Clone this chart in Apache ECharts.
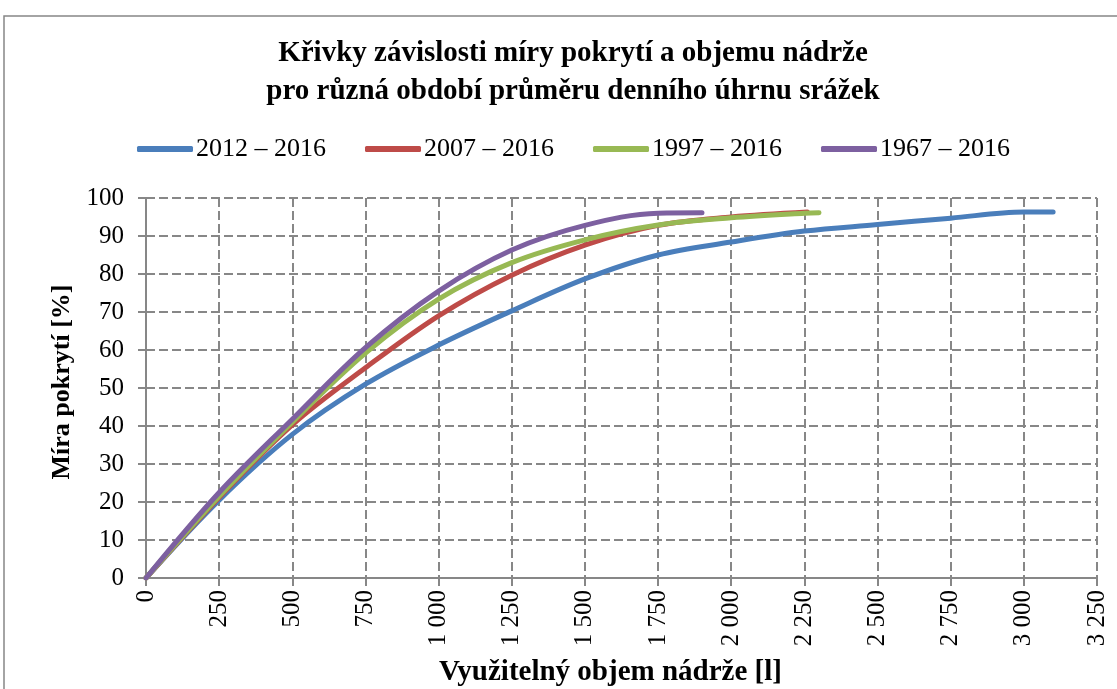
<!DOCTYPE html>
<html>
<head>
<meta charset="utf-8">
<script src="https://cdn.jsdelivr.net/npm/echarts@6/dist/echarts.min.js"></script>
<style>
  html, body { margin: 0; padding: 0; background: #fff; }
  #main { width: 1117px; height: 689px; }
</style>
</head>
<body>
<div id="main"></div>
<script>
// hodnoty
const seriesNames = ['2012 – 2016', '2007 – 2016', '1997 – 2016', '1967 – 2016'];
const seriesColors = ['#4A7EBB', '#BE4B48', '#98B954', '#7D60A0'];

const volume2012 = [0, 250, 500, 750, 1000, 1250, 1500, 1750, 2000, 2250, 2500, 2750, 3000, 3100];
const cover2012 = [0, 20.5, 37.8, 51, 61.3, 70.3, 78.7, 85, 88.4, 91.3, 93, 94.7, 96.3, 96.3];

const volume2007 = [0, 250, 500, 750, 1000, 1250, 1500, 1750, 2000, 2260];
const cover2007 = [0, 21.2, 40.3, 55.3, 69, 79.7, 87.6, 92.8, 95, 96.3];

const volume1997 = [0, 250, 500, 750, 1000, 1250, 1500, 1750, 2000, 2250, 2300];
const cover1997 = [0, 21.5, 41, 59.2, 73.4, 83, 89, 92.9, 94.8, 96, 96.1];

const volume1967 = [0, 250, 500, 750, 1000, 1250, 1500, 1750, 1900];
const cover1967 = [0, 22.5, 41.8, 60.6, 75.5, 86.3, 92.8, 96, 96.1];

const volumes = [volume2012, volume2007, volume1997, volume1967];
const covers = [cover2012, cover2007, cover1997, cover1967];

const font = 'Liberation Serif, Times New Roman, serif';
const gray = '#878787';

const chart = echarts.init(document.getElementById('main'));

const series = seriesNames.map((name, i) => ({
  name: name,
  type: 'line',
  smooth: 0.35,
  symbol: 'none',
  data: volumes[i].map((v, j) => [v, covers[i][j]]),
  lineStyle: { width: 5, color: seriesColors[i], cap: 'round' },
  itemStyle: { color: seriesColors[i] },
  z: 3 + i
}));

const option = {
  animation: false,
  backgroundColor: '#fff',
  textStyle: { fontFamily: font },
  graphic: [{
    type: 'rect',
    shape: { x: 4, y: 16, width: 1300, height: 900 },
    style: { fill: 'none', stroke: gray, lineWidth: 1.5 },
    silent: true
  }],
  title: {
    text: 'Křivky závislosti míry pokrytí a objemu nádrže\npro různá období průměru denního úhrnu srážek',
    left: 568,
    textAlign: 'center',
    top: 30,
    textStyle: {
      fontFamily: font,
      fontSize: 29,
      fontWeight: 'bold',
      color: '#000',
      lineHeight: 38
    }
  },
  legend: {
    data: seriesNames,
    left: 132,
    top: 131,
    icon: 'roundRect',
    itemWidth: 56,
    itemHeight: 6,
    itemGap: 39,
    textStyle: { fontFamily: font, fontSize: 26, color: '#000', padding: [0, 0, 0, -2] }
  },
  grid: { left: 146, right: 20, top: 198, bottom: 111, containLabel: false, outerBoundsMode: 'none' },
  xAxis: {
    type: 'value',
    min: 0,
    max: 3250,
    interval: 250,
    name: 'Využitelný objem nádrže [l]',
    nameLocation: 'middle',
    nameGap: 80,
    nameTextStyle: { fontFamily: font, fontSize: 29, fontWeight: 'bold', color: '#000', padding: [0, 22, 0, 0] },
    axisLine: { lineStyle: { color: gray, width: 2 } },
    axisTick: { show: true, length: 8, lineStyle: { color: gray, width: 2 } },
    axisLabel: {
      rotate: 90,
      margin: 12,
      fontFamily: font,
      fontSize: 25,
      color: '#000',
      formatter: v => String(v).replace(/\B(?=(\d{3})+(?!\d))/g, ' ')
    },
    splitLine: { show: true, lineStyle: { color: gray, width: 2, type: [9, 4] } }
  },
  yAxis: {
    type: 'value',
    min: 0,
    max: 100,
    interval: 10,
    name: 'Míra pokrytí [%]',
    nameLocation: 'middle',
    nameRotate: 90,
    nameGap: 71,
    nameTextStyle: { fontFamily: font, fontSize: 26, fontWeight: 'bold', color: '#000', padding: [0, 0, 0, 12] },
    axisLine: { show: true, lineStyle: { color: gray, width: 2 } },
    axisTick: { show: true, length: 8, lineStyle: { color: gray, width: 2 } },
    axisLabel: { margin: 22, fontFamily: font, fontSize: 25, color: '#000' },
    splitLine: { show: true, lineStyle: { color: gray, width: 2, type: [9, 4] } }
  },
  series: series
};

chart.setOption(option);
</script>
</body>
</html>
